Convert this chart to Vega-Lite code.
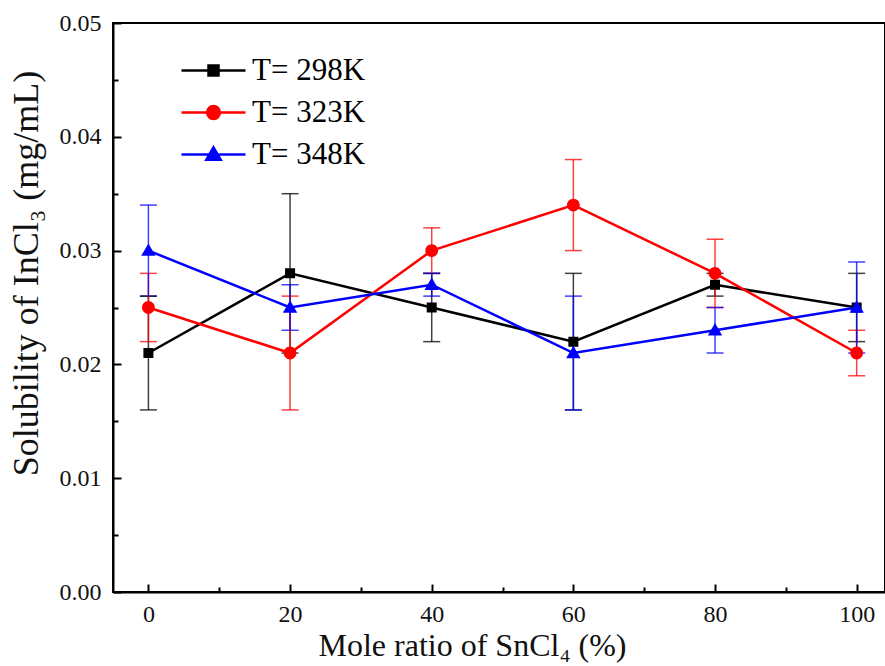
{
  "$schema": "https://vega.github.io/schema/vega-lite/v6.json",
  "width": 772,
  "height": 569,
  "autosize": {"type": "none"},
  "padding": {"left": 113, "top": 23, "right": 0, "bottom": 74},
  "background": "white",
  "data": {
    "values": [
      {"series": "T= 298K", "x": 0, "y": 0.021, "err": 0.005},
      {"series": "T= 298K", "x": 20, "y": 0.028, "err": 0.007},
      {"series": "T= 298K", "x": 40, "y": 0.025, "err": 0.003},
      {"series": "T= 298K", "x": 60, "y": 0.022, "err": 0.006},
      {"series": "T= 298K", "x": 80, "y": 0.027, "err": 0.001},
      {"series": "T= 298K", "x": 100, "y": 0.025, "err": 0.003},
      {"series": "T= 323K", "x": 0, "y": 0.025, "err": 0.003},
      {"series": "T= 323K", "x": 20, "y": 0.021, "err": 0.005},
      {"series": "T= 323K", "x": 40, "y": 0.030, "err": 0.002},
      {"series": "T= 323K", "x": 60, "y": 0.034, "err": 0.004},
      {"series": "T= 323K", "x": 80, "y": 0.028, "err": 0.003},
      {"series": "T= 323K", "x": 100, "y": 0.021, "err": 0.002},
      {"series": "T= 348K", "x": 0, "y": 0.030, "err": 0.004},
      {"series": "T= 348K", "x": 20, "y": 0.025, "err": 0.002},
      {"series": "T= 348K", "x": 40, "y": 0.027, "err": 0.001},
      {"series": "T= 348K", "x": 60, "y": 0.021, "err": 0.005},
      {"series": "T= 348K", "x": 80, "y": 0.023, "err": 0.002},
      {"series": "T= 348K", "x": 100, "y": 0.025, "err": 0.004}
    ]
  },
  "encoding": {
    "x": {
      "field": "x", "type": "quantitative",
      "scale": {"domain": [-5, 104], "nice": false, "zero": false},
      "axis": {
        "title": "Mole ratio of SnCl₄ (%)",
        "titleFontSize": 32,
        "titleX": 359,
        "values": [0, 10, 20, 30, 40, 50, 60, 70, 80, 90, 100],
        "labelExpr": "datum.value % 20 === 0 ? datum.label : ''",
        "tickSize": {"condition": {"test": "datum.value % 20 === 0", "value": -8}, "value": -5},
        "labelPadding": 18,
        "titlePadding": 4
      }
    },
    "y": {
      "field": "y", "type": "quantitative",
      "scale": {"domain": [0, 0.05], "nice": false},
      "axis": {
        "title": "Solubility of InCl₃ (mg/mL)",
        "titleFontSize": 36,
        "titleY": 250,
        "values": [0, 0.005, 0.01, 0.015, 0.02, 0.025, 0.03, 0.035, 0.04, 0.045, 0.05],
        "labelExpr": "round(datum.value * 1000) % 10 === 0 ? format(datum.value, '.2f') : ''",
        "tickSize": {"condition": {"test": "round(datum.value * 1000) % 10 === 0", "value": -8}, "value": -5},
        "labelPadding": 20,
        "titlePadding": 14
      }
    },
    "color": {
      "field": "series", "type": "nominal",
      "scale": {"domain": ["T= 298K", "T= 323K", "T= 348K"], "range": ["#000000", "#ff0000", "#0000ff"]},
      "legend": null
    }
  },
  "layer": [
    {
      "mark": {"type": "errorbar", "ticks": {"size": 17, "thickness": 1.5}, "thickness": 1.5, "opacity": 0.75},
      "encoding": {
        "y": {"field": "y", "type": "quantitative"},
        "yError": {"field": "err"}
      }
    },
    {
      "mark": {"type": "line", "strokeWidth": 2.5},
      "encoding": {"detail": {"field": "series"}}
    },
    {
      "mark": {"type": "point", "filled": true, "opacity": 1, "size": 1600},
      "encoding": {
        "shape": {
          "field": "series", "type": "nominal",
          "scale": {
            "domain": ["T= 298K", "T= 323K", "T= 348K"],
            "range": [
              "M-1.6,0H1.6M-0.25,-0.25H0.25V0.25H-0.25Z",
              "M-1.6,0H1.6M-0.32,0A0.32,0.32,0,1,1,0.32,0A0.32,0.32,0,1,1,-0.32,0Z",
              "M-1.6,0H1.6M0,-0.36L0.36,0.26H-0.36Z"
            ]
          },
          "legend": {
            "title": null,
            "orient": "none",
            "legendX": 79,
            "legendY": 26,
            "padding": 0,
            "rowPadding": 5,
            "symbolSize": 1600,
            "symbolStrokeWidth": 2.5,
            "symbolOpacity": 1,
            "symbolFillColor": {"expr": "datum.value === 'T= 298K' ? '#000000' : datum.value === 'T= 323K' ? '#ff0000' : '#0000ff'"},
            "symbolStrokeColor": {"expr": "datum.value === 'T= 298K' ? '#000000' : datum.value === 'T= 323K' ? '#ff0000' : '#0000ff'"},
            "labelFont": "Liberation Serif",
            "labelFontSize": 31,
            "labelColor": "#000",
            "labelOffset": 17
          }
        }
      }
    }
  ],
  "resolve": {"scale": {"shape": "independent"}},
  "config": {
    "font": "Liberation Serif",
    "view": {"stroke": "#000", "strokeWidth": 2},
    "axis": {
      "domainColor": "#000",
      "domainWidth": 2,
      "tickColor": "#000",
      "tickWidth": 2,
      "grid": false,
      "labelFont": "Liberation Serif",
      "labelFontSize": 24,
      "labelColor": "#111",
      "titleFont": "Liberation Serif",
      "titleFontWeight": "normal",
      "titleColor": "#111"
    }
  }
}
